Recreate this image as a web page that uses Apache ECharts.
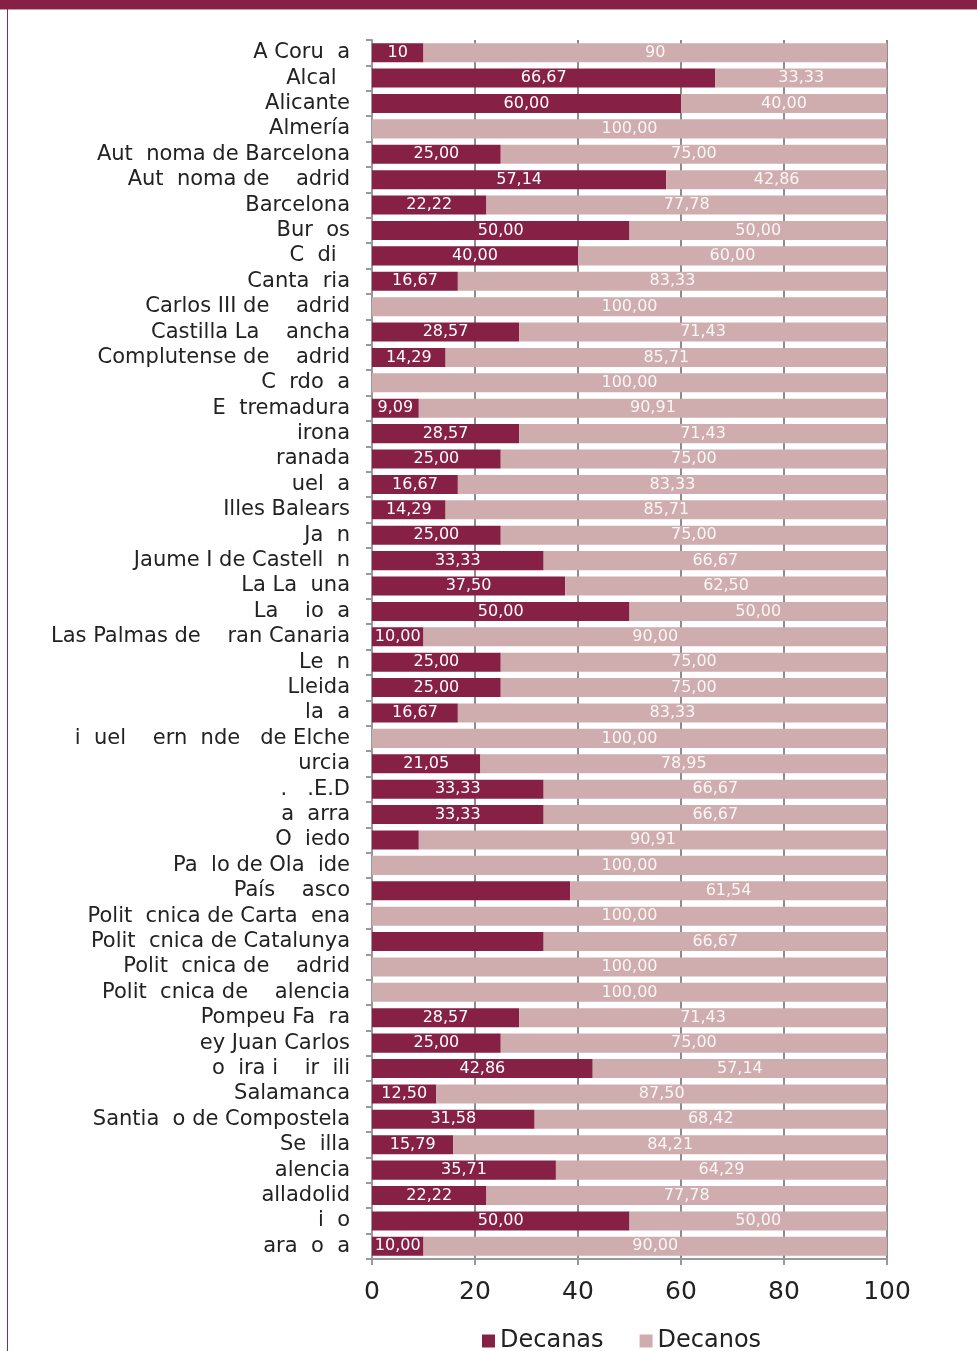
<!DOCTYPE html>
<html>
<head>
<meta charset="utf-8">
<script src="https://cdn.jsdelivr.net/npm/echarts@6/dist/echarts.min.js"></script>
<style>
html,body{margin:0;padding:0;background:#fff;}
#chart{width:977px;height:1351px;}
</style>
</head>
<body>
<div id="chart"></div>
<script>
const categories = [
  "A Coru  a", "Alcal  ", "Alicante", "Almería", "Aut  noma de Barcelona",
  "Aut  noma de    adrid", "Barcelona", "Bur  os", "C  di  ", "Canta  ria",
  "Carlos III de    adrid", "Castilla La    ancha", "Complutense de    adrid", "C  rdo  a", "E  tremadura",
  "irona", "ranada", "uel  a", "Illes Balears", "Ja  n",
  "Jaume I de Castell  n", "La La  una", "La    io  a", "Las Palmas de    ran Canaria", "Le  n",
  "Lleida", "la  a", "i  uel    ern  nde   de Elche", "urcia", ".   .E.D",
  "a  arra", "O  iedo", "Pa  lo de Ola  ide", "País    asco", "Polit  cnica de Carta  ena",
  "Polit  cnica de Catalunya", "Polit  cnica de    adrid", "Polit  cnica de    alencia", "Pompeu Fa  ra", "ey Juan Carlos",
  "o  ira i    ir  ili", "Salamanca", "Santia  o de Compostela", "Se  illa", "alencia",
  "alladolid", "i  o", "ara  o  a"
];
const decanas = [
  10, 66.67, 60, 0, 25,
  57.14, 22.22, 50, 40, 16.67,
  0, 28.57, 14.29, 0, 9.09,
  28.57, 25, 16.67, 14.29, 25,
  33.33, 37.5, 50, 10, 25,
  25, 16.67, 0, 21.05, 33.33,
  33.33, 9.09, 0, 38.46, 0,
  33.33, 0, 0, 28.57, 25,
  42.86, 12.5, 31.58, 15.79, 35.71,
  22.22, 50, 10
];
const decanos = [
  90, 33.33, 40, 100, 75,
  42.86, 77.78, 50, 60, 83.33,
  100, 71.43, 85.71, 100, 90.91,
  71.43, 75, 83.33, 85.71, 75,
  66.67, 62.5, 50, 90, 75,
  75, 83.33, 100, 78.95, 66.67,
  66.67, 90.91, 100, 61.54, 100,
  66.67, 100, 100, 71.43, 75,
  57.14, 87.5, 68.42, 84.21, 64.29,
  77.78, 50, 90
];
const decanasLabels = [
  "10", "66,67", "60,00", "", "25,00",
  "57,14", "22,22", "50,00", "40,00", "16,67",
  "", "28,57", "14,29", "", "9,09",
  "28,57", "25,00", "16,67", "14,29", "25,00",
  "33,33", "37,50", "50,00", "10,00", "25,00",
  "25,00", "16,67", "", "21,05", "33,33",
  "33,33", "", "", "", "",
  "", "", "", "28,57", "25,00",
  "42,86", "12,50", "31,58", "15,79", "35,71",
  "22,22", "50,00", "10,00"
];
const decanosLabels = [
  "90", "33,33", "40,00", "100,00", "75,00",
  "42,86", "77,78", "50,00", "60,00", "83,33",
  "100,00", "71,43", "85,71", "100,00", "90,91",
  "71,43", "75,00", "83,33", "85,71", "75,00",
  "66,67", "62,50", "50,00", "90,00", "75,00",
  "75,00", "83,33", "100,00", "78,95", "66,67",
  "66,67", "90,91", "100,00", "61,54", "100,00",
  "66,67", "100,00", "100,00", "71,43", "75,00",
  "57,14", "87,50", "68,42", "84,21", "64,29",
  "77,78", "50,00", "90,00"
];
const xTicks = [0, 20, 40, 60, 80, 100];
const seriesNames = ["Decanas", "Decanos"];

const chart = echarts.init(document.getElementById('chart'), null, {renderer: 'canvas'});
const FONT = "DejaVu Sans";
const option = {
  animation: false,
  backgroundColor: '#ffffff',
  graphic: [
    {type: 'rect', left: 0, top: 0, shape: {width: 977, height: 9}, style: {fill: '#862145'}, z: 10},
    {type: 'rect', left: 0, top: 9, shape: {width: 977, height: 1}, style: {fill: '#c99aa8'}, z: 10},
    {type: 'rect', left: 7, top: 9, shape: {width: 1, height: 1342}, style: {fill: '#8b2a4c'}, z: 10}
  ],
  legend: {
    data: seriesNames,
    left: 477,
    top: 1324,
    icon: 'rect',
    itemWidth: 13,
    itemHeight: 13,
    itemGap: 36,
    textStyle: {fontFamily: FONT, fontSize: 24, color: '#222'}
  },
  grid: {left: 372, right: 90, top: 40, bottom: 92, containLabel: false},
  xAxis: {
    type: 'value',
    min: 0, max: 100, interval: 20,
    axisLine: {show: true, lineStyle: {color: '#999', width: 2}},
    axisTick: {show: true, length: 6, lineStyle: {color: '#999', width: 2}},
    splitLine: {show: true, lineStyle: {color: '#8c8c8c', width: 2}},
    axisLabel: {
      margin: 21, color: '#222', fontFamily: FONT, fontSize: 25,
      formatter: v => xTicks.includes(v) ? String(v) : ''
    }
  },
  yAxis: {
    type: 'category',
    data: categories,
    inverse: true,
    axisLine: {show: true, lineStyle: {color: '#999', width: 2}},
    axisTick: {show: true, length: 6, lineStyle: {color: '#999', width: 2}},
    axisLabel: {margin: 22, color: '#222', fontFamily: FONT, fontSize: 21, interval: 0}
  },
  series: [
    {
      name: seriesNames[0], type: 'bar', stack: 'total', barCategoryGap: '25%',
      itemStyle: {color: '#862145'},
      label: {
        show: true, position: 'inside', color: '#ffffff', fontFamily: FONT, fontSize: 16,
        formatter: p => decanasLabels[p.dataIndex]
      },
      data: decanas, z: 3
    },
    {
      name: seriesNames[1], type: 'bar', stack: 'total', barCategoryGap: '25%',
      itemStyle: {color: '#cfadaf'},
      label: {
        show: true, position: 'inside', color: '#fbf6f6', fontFamily: FONT, fontSize: 16,
        formatter: p => decanosLabels[p.dataIndex]
      },
      data: decanos, z: 3
    }
  ]
};
chart.setOption(option);
</script>
</body>
</html>
